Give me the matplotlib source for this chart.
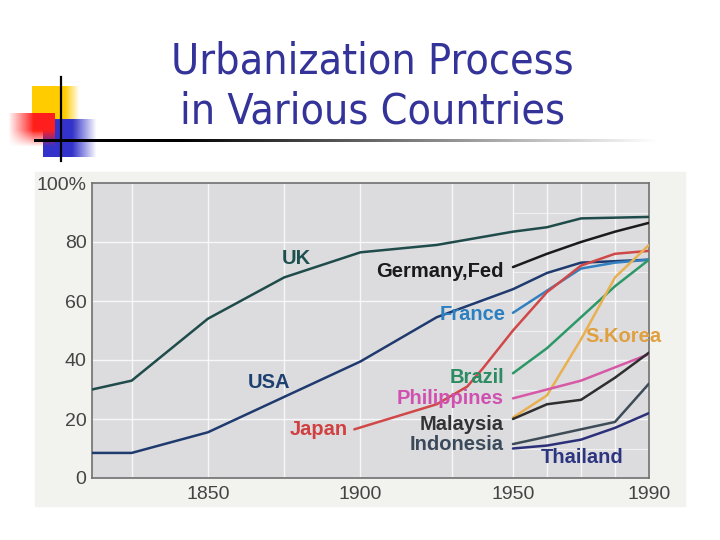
import matplotlib
matplotlib.use("Agg")
import matplotlib.pyplot as plt
import numpy as np

# --- data (percent urban population) ---
uk_years = [1812, 1825, 1850, 1875, 1900, 1925, 1950, 1960, 1970, 1990]
uk_vals = [30, 33, 54, 68, 76.5, 79, 83.5, 85, 88, 88.5]

usa_years = [1812, 1825, 1850, 1875, 1900, 1925, 1950, 1960, 1970, 1990]
usa_vals = [8.5, 8.5, 15.5, 27.5, 39.5, 54.5, 64, 69.5, 73, 74]

japan_years = [1898, 1925, 1935, 1940, 1950, 1960, 1970, 1980, 1990]
japan_vals = [16.5, 25, 31, 37, 50, 63, 72, 76, 77]

late_years = [1950, 1960, 1970, 1980, 1990]
germany_vals = [71.5, 76, 80, 83.5, 86.5]
france_vals = [56, 63.5, 71, 73, 74]
brazil_vals = [35.5, 44, 54.5, 65, 74]
skorea_vals = [20.5, 28, 47, 68, 79]
philippines_vals = [27, 30, 33, 37.5, 42]
malaysia_vals = [20, 25, 26.5, 34, 42.5]
indonesia_vals = [11.5, 14, 16.5, 19, 32]
thailand_vals = [10, 11, 13, 17, 22]

y_ticks = [0, 20, 40, 60, 80, 100]
y_tick_labels = ["0", "20", "40", "60", "80", "100%"]
x_ticks = [1850, 1900, 1950, 1990]

series = [
    ("UK", uk_years, uk_vals, "#1f4b4a"),
    ("USA", usa_years, usa_vals, "#1f3a6e"),
    ("Germany,Fed", late_years, germany_vals, "#1a1a1a"),
    ("France", late_years, france_vals, "#3380c0"),
    ("Japan", japan_years, japan_vals, "#d04848"),
    ("Brazil", late_years, brazil_vals, "#2c9868"),
    ("S.Korea", late_years, skorea_vals, "#e8b050"),
    ("Philippines", late_years, philippines_vals, "#d858a8"),
    ("Malaysia", late_years, malaysia_vals, "#2e2e2e"),
    ("Indonesia", late_years, indonesia_vals, "#3e4c58"),
    ("Thailand", late_years, thailand_vals, "#2c3078"),
]

# label anchors (data coords) and text colours
label_pos = {
    "UK": (1879, 74.5, "center", "#1e5050"),
    "USA": (1870, 32.5, "center", "#1e4070"),
    "Germany,Fed": (1947, 70, "right", "#1a1a1a"),
    "France": (1947.5, 55.3, "right", "#2c7fc0"),
    "Japan": (1895.8, 16.6, "right", "#d04040"),
    "Brazil": (1947, 34.2, "right", "#2a8c60"),
    "S.Korea": (1971.3, 47.8, "left", "#e0a040"),
    "Philippines": (1947, 27, "right", "#d050b0"),
    "Malaysia": (1947, 18.3, "right", "#333333"),
    "Indonesia": (1947, 11.5, "right", "#3a4a5a"),
    "Thailand": (1970.3, 7, "center", "#2e3580"),
}

# after 1950 the original axis is stretched (about 3.4 px/yr vs 3.05 px/yr)
K = 3.4 / 3.05


def fwd(x):
    x = np.asarray(x, dtype=float)
    return np.where(x <= 1950, x, 1950 + (x - 1950) * K)


def inv(x):
    x = np.asarray(x, dtype=float)
    return np.where(x <= 1950, x, 1950 + (x - 1950) / K)


fig = plt.figure(figsize=(7.2, 5.4), dpi=100)
fig.patch.set_facecolor("white")

# --- slide decoration (pixel coordinates) ---
deco = fig.add_axes([0, 0, 1, 1], zorder=0)
deco.set_xlim(0, 720)
deco.set_ylim(540, 0)
deco.axis("off")


def grad_square(ax, x0, x1, y0, y1, rgb, alpha_fn):
    w, h = 60, 60
    u = np.linspace(0, 1, w)[None, :].repeat(h, 0)
    v = np.linspace(0, 1, h)[:, None].repeat(w, 1)
    img = np.zeros((h, w, 4))
    img[..., :3] = rgb
    img[..., 3] = np.clip(alpha_fn(u, v), 0, 1)
    ax.imshow(img, extent=(x0, x1, y1, y0), interpolation="bilinear", aspect="auto")


grad_square(deco, 32, 80, 86, 132, (1.0, 0.8, 0.0), lambda u, v: (1 - u) * 3.2)
grad_square(deco, 43, 97, 119, 157, (0.2, 0.2, 0.8), lambda u, v: (1 - u) * 2.2)
grad_square(deco, 8, 55, 113, 147, (1.0, 0.12, 0.12),
            lambda u, v: np.minimum(u * 1.8, 1) * np.minimum((1 - v) * 2.0, 1))

line_img = np.zeros((1, 200, 4))
line_img[..., 3] = np.clip(np.linspace(1.3, 0, 200), 0, 1)
deco.imshow(line_img, extent=(34, 660, 142.5, 139.5), aspect="auto", interpolation="bilinear")
deco.plot([61, 61], [77, 161], color="black", lw=1.6)

# scanned chart background
deco.add_patch(plt.Rectangle((35, 172), 650, 334, color="#f2f2ee", zorder=0.5))

fig.text(0.517, 1 - 73 / 540, "Urbanization Process", ha="center", va="baseline",
         color="#333399", fontsize=30.8, family="DejaVu Sans", fontstretch="condensed")
fig.text(0.517, 1 - 123 / 540, "in Various Countries", ha="center", va="baseline",
         color="#333399", fontsize=30.8, family="DejaVu Sans", fontstretch="condensed")

# --- chart ---
ax = fig.add_axes([92 / 720, 1 - 478 / 540, 557 / 720, 295 / 540], zorder=2)
ax.set_xscale("function", functions=(fwd, inv))
ax.set_facecolor("#dcdcdf")
ax.set_xlim(1812, 1990)
ax.set_ylim(0, 100)

for gx in [1825, 1850, 1875, 1900, 1930, 1950, 1960, 1970, 1980]:
    ax.axvline(gx, color="white", lw=1.0, alpha=0.8, zorder=1)
for gy in [20, 40, 60, 80]:
    ax.axhline(gy, color="white", lw=1.0, alpha=0.8, zorder=1)
ax.hlines([10, 30, 50, 70, 90], 1950, 1990, color="white", lw=0.8, alpha=0.6, zorder=1)

for name, yrs, vals, col in series:
    ax.plot(yrs, vals, color=col, lw=1.8, zorder=3, solid_capstyle="round")

for name, (lx, ly, ha, col) in label_pos.items():
    ax.text(lx, ly, name, ha=ha, va="center", color=col, fontsize=14.5,
            fontweight="bold", family="Liberation Sans", zorder=4, clip_on=False)

ax.set_yticks(y_ticks)
ax.set_yticklabels(y_tick_labels)
ax.set_xticks(x_ticks)
ax.set_xticklabels([str(t) for t in x_ticks])
ax.tick_params(length=0, labelsize=14, labelcolor="#444444", pad=4)
ax.tick_params(axis="x", pad=6)
for lab in ax.get_xticklabels() + ax.get_yticklabels():
    lab.set_family("Liberation Sans")
for sp in ax.spines.values():
    sp.set_color("#707070")
    sp.set_linewidth(1.2)

fig.savefig("out.png", dpi=100)
